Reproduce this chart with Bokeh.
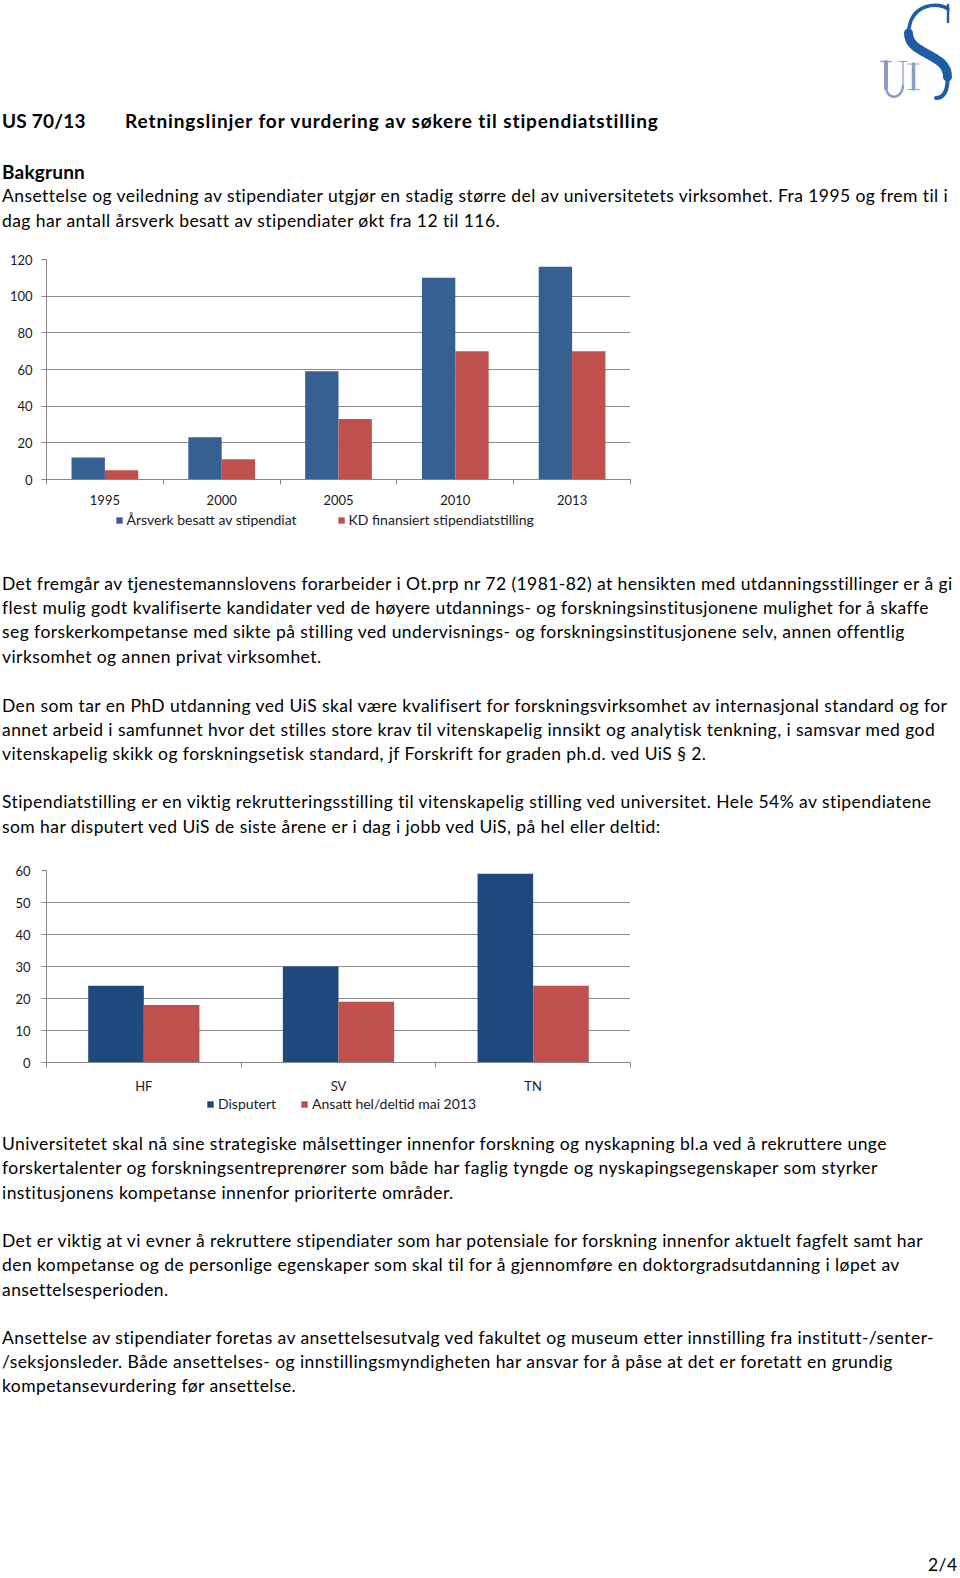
import html as _html
from bokeh.plotting import figure
from bokeh.models import Range1d, FixedTicker, Legend, LegendItem, ColumnDataSource, Div
from bokeh.layouts import column
from bokeh.transform import dodge
from bokeh.embed import file_html
from bokeh.resources import INLINE

# ---------------- data ----------------
years = ["1995", "2000", "2005", "2010", "2013"]
aarsverk = [12, 23, 59, 110, 116]
kd_finansiert = [5, 11, 33, 70, 70]
names1 = ["Årsverk besatt av stipendiat", "KD finansiert stipendiatstilling"]
y1_ticks = [0, 20, 40, 60, 80, 100, 120]

faculties = ["HF", "SV", "TN"]
disputert = [24, 30, 59]
ansatt = [18, 19, 24]
names2 = ["Disputert", "Ansatt hel/deltid mai 2013"]
y2_ticks = [0, 10, 20, 30, 40, 50, 60]

# ---------------- texts ----------------
doc_id = "US 70/13"
doc_title = "Retningslinjer for vurdering av søkere til stipendiatstilling"
section = "Bakgrunn"
intro = [
    "Ansettelse og veiledning av stipendiater utgjør en stadig større del av universitetets virksomhet. Fra 1995 og frem til i",
    "dag har antall årsverk besatt av stipendiater økt fra 12 til 116.",
]
para1 = [
    "Det fremgår av tjenestemannslovens forarbeider i Ot.prp nr 72 (1981-82) at hensikten med utdanningsstillinger er å gi",
    "flest mulig godt kvalifiserte kandidater ved de høyere utdannings- og forskningsinstitusjonene mulighet for å skaffe",
    "seg forskerkompetanse med sikte på stilling ved undervisnings- og forskningsinstitusjonene selv, annen offentlig",
    "virksomhet og annen privat virksomhet.",
]
para2 = [
    "Den som tar en PhD utdanning ved UiS skal være kvalifisert for forskningsvirksomhet av internasjonal standard og for",
    "annet arbeid i samfunnet hvor det stilles store krav til vitenskapelig innsikt og analytisk tenkning, i samsvar med god",
    "vitenskapelig skikk og forskningsetisk standard, jf Forskrift for graden ph.d. ved UiS § 2.",
]
para3 = [
    "Stipendiatstilling er en viktig rekrutteringsstilling til vitenskapelig stilling ved universitet. Hele 54% av stipendiatene",
    "som har disputert ved UiS de siste årene er i dag i jobb ved UiS, på hel eller deltid:",
]
para4 = [
    "Universitetet skal nå sine strategiske målsettinger innenfor forskning og nyskapning bl.a ved å rekruttere unge",
    "forskertalenter og forskningsentreprenører som både har faglig tyngde og nyskapingsegenskaper som styrker",
    "institusjonens kompetanse innenfor prioriterte områder.",
]
para5 = [
    "Det er viktig at vi evner å rekruttere stipendiater som har potensiale for forskning innenfor aktuelt fagfelt samt har",
    "den kompetanse og de personlige egenskaper som skal til for å gjennomføre en doktorgradsutdanning i løpet av",
    "ansettelsesperioden.",
]
para6 = [
    "Ansettelse av stipendiater foretas av ansettelsesutvalg ved fakultet og museum etter innstilling fra institutt-/senter-",
    "/seksjonsleder. Både ansettelses- og innstillingsmyndigheten har ansvar for å påse at det er foretatt en grundig",
    "kompetansevurdering før ansettelse.",
]
page_no = "2/4"

PAGE_W = 960
PITCH = 24.35
BODY = dict(size=17.5, weight=400, ls=0.43)
HEAD = dict(size=19, weight=700, ls=0.9)
HEAD_SHORT = dict(size=19, weight=700, ls=0.2)


def lines_at(x, y0, lines, style):
    return [(x, y0 + i * PITCH, t, style) for i, t in enumerate(lines)]


def text_block(top, height, items, extra=""):
    parts = [f'<div style="position:relative;width:{PAGE_W}px;height:{height}px;'
             f'overflow:hidden;background:#ffffff;">']
    lh = 24
    for x, y, t, st in items:
        parts.append(
            f'<div style="position:absolute;left:{x}px;top:{y - top - lh / 2:.1f}px;'
            f'height:{lh}px;line-height:{lh}px;white-space:nowrap;font-family:Lato;'
            f'font-size:{st["size"]}px;font-weight:{st["weight"]};'
            f'letter-spacing:{st["ls"]}px;color:#000000;">{_html.escape(t)}</div>')
    parts.append(extra)
    parts.append("</div>")
    return Div(text="".join(parts), width=PAGE_W, height=height, margin=0)


# logo drawing (decoration, inline svg)
S_COL = "#1C5DA5"
U_COL = "#8B9CC6"
logo = (
    '<svg style="position:absolute;left:860px;top:0px" width="100" height="104" '
    'xmlns="http://www.w3.org/2000/svg" fill="none" stroke-linecap="round">'
    f'<path d="M88,5 L88,22" stroke="{S_COL}" stroke-width="2.5"/>'
    f'<path d="M88,9 C80,2 50,2 48.5,33" stroke="{S_COL}" stroke-width="3.5"/>'
    f'<path d="M48.5,33 C48,55 88,53 87.5,77" stroke="{S_COL}" stroke-width="9"/>'
    f'<path d="M87.5,77 C88,92 83,98 76,98" stroke="{S_COL}" stroke-width="4"/>'
    f'<path d="M26,62 L26,88" stroke="{U_COL}" stroke-width="4"/>'
    f'<path d="M26,88 C27,100 42,100 43,86" stroke="{U_COL}" stroke-width="2.5"/>'
    f'<path d="M43,62 L43,86" stroke="{U_COL}" stroke-width="1.2"/>'
    f'<path d="M21,61.5 L31,61.5" stroke="{U_COL}" stroke-width="1.5"/>'
    f'<path d="M39,61.5 L47,61.5" stroke="{U_COL}" stroke-width="1.2"/>'
    f'<path d="M53.5,64 L53.5,89" stroke="{U_COL}" stroke-width="3.5"/>'
    f'<path d="M48,64 L59,64" stroke="{U_COL}" stroke-width="1.2"/>'
    f'<path d="M48,89.5 L59,89.5" stroke="{U_COL}" stroke-width="1.2"/>'
    '</svg>'
)

header = text_block(0, 248,
                    [(2, 120.5, doc_id, HEAD_SHORT), (125, 120.5, doc_title, HEAD),
                     (2, 172, section, HEAD_SHORT)] + lines_at(2, 196.2, intro, BODY),
                    extra=logo)

# ---------------- charts ----------------
LEFT = 46
FRAME_W = 584
RIGHT = PAGE_W - LEFT - FRAME_W
AXIS_COL = "#868686"


def bar_chart(cats, s1, s2, colors, ticks, height, top, label_standoff):
    n = len(cats)
    bw = 1 / 3.5
    p = figure(width=PAGE_W, height=height, x_range=Range1d(-0.5, n - 0.5),
               y_range=Range1d(0, ticks[-1]), output_backend="svg", toolbar_location=None,
               min_border_left=LEFT, min_border_right=RIGHT,
               min_border_top=top, min_border_bottom=28)
    p.outline_line_color = None
    src = ColumnDataSource(dict(x=list(range(n)), a=s1, b=s2))
    p.vbar(x=dodge("x", -bw / 2, range=p.x_range), top="a", width=bw, source=src,
           fill_color=colors[0], line_color=None)
    p.vbar(x=dodge("x", bw / 2, range=p.x_range), top="b", width=bw, source=src,
           fill_color=colors[1], line_color=None)

    xa = p.xaxis[0]
    xa.ticker = FixedTicker(ticks=list(range(n)), minor_ticks=[i - 0.5 for i in range(n + 1)])
    xa.major_label_overrides = {i: c for i, c in enumerate(cats)}
    xa.major_tick_line_color = None
    xa.major_tick_out = 0
    xa.major_tick_in = 0
    xa.minor_tick_line_color = AXIS_COL
    xa.minor_tick_out = 5
    xa.minor_tick_in = 0
    xa.axis_line_color = AXIS_COL
    xa.major_label_standoff = 10

    ya = p.yaxis[0]
    ya.ticker = FixedTicker(ticks=ticks)
    ya.major_tick_out = 5
    ya.major_tick_in = 0
    ya.minor_tick_line_color = None
    ya.major_tick_line_color = AXIS_COL
    ya.axis_line_color = AXIS_COL
    ya.major_label_standoff = label_standoff

    for ax in (xa, ya):
        ax.major_label_text_font = "Lato"
        ax.major_label_text_font_size = "13px"
        ax.major_label_text_color = "#1a1a1a"

    p.xgrid.visible = False
    p.ygrid.ticker = FixedTicker(ticks=ticks)
    p.ygrid.grid_line_color = "#8c8c8c"
    return p


def legend_strip(names, colors, leg_x, leg_y, leg_spacing):
    # a thin strip below the chart that holds the chart's legend
    p = figure(width=PAGE_W, height=25, x_range=Range1d(0, 1),
               y_range=Range1d(0, 1), output_backend="svg", toolbar_location=None,
               min_border_left=LEFT, min_border_right=RIGHT, min_border_top=0,
               min_border_bottom=0, x_axis_type=None, y_axis_type=None)
    p.outline_line_color = None
    p.grid.visible = False
    # zero-size placeholder renderers: they only supply the legend swatches
    swatches = [p.vbar(x=[0], top=[0], bottom=[0], width=0, fill_color=c, line_color=None)
                for c in colors]
    leg = Legend(items=[LegendItem(label=nm, renderers=[r]) for nm, r in zip(names, swatches)],
                 orientation="horizontal", location=(leg_x, leg_y), spacing=leg_spacing,
                 glyph_width=8, glyph_height=8, label_standoff=4, padding=4, margin=0,
                 label_height=16, border_line_color=None, background_fill_alpha=0,
                 label_text_font="Lato", label_text_font_size="14px",
                 label_text_color="#1a1a1a")
    p.add_layout(leg)
    return p


chart1 = bar_chart(years, aarsverk, kd_finansiert, ["#376092", "#C0504D"], y1_ticks,
                   height=259, top=11, label_standoff=9)
legend1 = legend_strip(names1, ["#376092", "#C0504D"], leg_x=68.5, leg_y=4, leg_spacing=40)

body1 = text_block(532, 318, lines_at(2, 583.5, para1, BODY) + lines_at(2, 705.5, para2, BODY)
                   + lines_at(2, 802.2, para3, BODY))

chart2 = bar_chart(faculties, disputert, ansatt, ["#1F497D", "#C0504D"], y2_ticks,
                   height=246, top=20, label_standoff=11)
legend2 = legend_strip(names2, ["#1F497D", "#C0504D"], leg_x=160, leg_y=9, leg_spacing=24)

body2 = text_block(1121, 454, lines_at(2, 1144, para4, BODY) + lines_at(2, 1241, para5, BODY)
                   + lines_at(2, 1337.5, para6, BODY) + [(928, 1565, page_no, BODY)])

layout = column(header, chart1, legend1, body1, chart2, legend2, body2, spacing=0)
open("out.html", "w").write(file_html(layout, INLINE))
